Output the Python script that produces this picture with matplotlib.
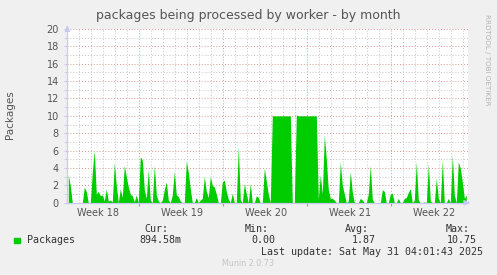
import numpy as np
import matplotlib
matplotlib.use("Agg")
import matplotlib.pyplot as plt
from matplotlib.patches import Rectangle
from matplotlib.ticker import MultipleLocator, FixedLocator

# packages in flight, one sample per 4 hours, oldest first
packages = [
    3.2, 2.0, 0, 0, 0, 0, 0, 0, 1.8, 1.3,
    0, 0, 3.5, 6.0, 1.0, 1.3, 0.8, 0.9, 0.2, 1.6,
    0.2, 0.3, 0.1, 4.6, 2.0, 0, 1.6, 0.6, 4.3, 3.0,
    1.8, 1.0, 0.8, 0.1, 0.9, 0, 5.3, 4.9, 1.5, 0.5,
    3.8, 0.3, 0, 4.3, 0.9, 0.2, 0, 0.3, 1.5, 2.4,
    0.3, 0, 0.9, 3.6, 0.9, 0.7, 0.2, 0, 0, 4.8,
    3.5, 1.6, 0, 0, 0.6, 0, 0.3, 0.5, 3.0, 1.3,
    0.6, 3.0, 2.0, 1.8, 1.0, 0, 0, 2.4, 2.6, 1.3,
    0.4, 0, 1.1, 0, 0, 6.5, 0.3, 0, 2.2, 1.0,
    0, 2.2, 0, 0, 0.8, 0.6, 0, 0, 4.0, 2.5,
    1.0, 0, 10.0, 10.0, 10.0, 10.0, 10.0, 10.0, 10.0, 10.0,
    10.0, 10.0, 0, 0, 10.1, 10.0, 10.0, 10.0, 10.0, 10.0,
    10.0, 10.0, 10.0, 10.0, 10.0, 0.4, 3.2, 1.0, 7.8, 5.0,
    1.5, 0.5, 0.5, 0.3, 0, 0, 4.7, 2.0, 1.0, 0,
    0.2, 3.6, 1.2, 0, 0, 0, 0.5, 0.3, 0, 0,
    1.0, 4.3, 0.4, 0, 0, 0, 0, 1.5, 1.3, 0,
    0, 1.0, 1.1, 0, 0, 0.5, 0, 0, 0.5, 0.6,
    1.2, 1.6, 0, 0.3, 4.7, 0.3, 0, 0, 0.1, 0,
    4.5, 0.2, 0, 0, 2.8, 0.5, 0, 4.9, 0, 0,
    0.5, 0, 5.5, 0.9, 0, 4.7, 4.0, 2.4, 0.5, 0.9,
]
samples_per_day = 6
span_days = 33.39
week_starts = [6, 13, 20, 27]
week_label_pos = [2.56, 9.56, 16.56, 23.56, 30.56]
week_labels = ["Week 18", "Week 19", "Week 20", "Week 21", "Week 22"]
stats = {"Cur:": "894.58m", "Min:": "0.00", "Avg:": "1.87", "Max:": "10.75"}
last_update = "Last update: Sat May 31 04:01:43 2025"

W, H = 497, 275
BG = "#f0f0f0"
GREEN = "#00cc00"
AXIS = "#c8c8f0"
TXT = "#555555"
MONO = "DejaVu Sans Mono"


def fx(px):
    return px / W


def fy(py):
    return 1 - py / H


fig = plt.figure(figsize=(W / 100, H / 100), dpi=100, facecolor=BG)
left, right, top, bottom = 67.3, 468.0, 29.0, 202.7
ax = fig.add_axes([fx(left), fy(bottom), fx(right - left), (bottom - top) / H])
ax.set_facecolor("white")

vals = np.array(packages)
t = (np.arange(len(vals)) + 0.5) / samples_per_day
ax.fill_between(t, 0, vals, color=GREEN, lw=0, zorder=2)

ax.set_xlim(0, span_days)
ax.set_ylim(0, 20)

# grid: gray per day / per unit, red per week / per 2 units
ax.set_axisbelow(True)
ax.xaxis.set_major_locator(FixedLocator(week_starts))
ax.xaxis.set_minor_locator(MultipleLocator(1))
ax.yaxis.set_major_locator(MultipleLocator(2))
ax.yaxis.set_minor_locator(MultipleLocator(1))
ax.grid(which="minor", color="#c4c4c4", ls=(0, (1, 2)), lw=0.7)
ax.grid(which="major", color="#dc9494", ls=(0, (1, 2)), lw=0.7)
ax.set_xticklabels([])
ax.tick_params(axis="x", which="major", length=2, color="#e08080", width=0.8)
ax.tick_params(axis="x", which="minor", length=0)
ax.tick_params(axis="y", which="both", length=2, color=AXIS, labelsize=7,
               labelcolor=TXT, pad=4)

sec = ax.secondary_xaxis("bottom")
sec.set_xticks(week_label_pos, week_labels)
sec.tick_params(length=0, labelsize=7, labelcolor=TXT, pad=4)
sec.spines["bottom"].set_visible(False)

for s in ["top", "right"]:
    ax.spines[s].set_visible(False)
for s in ["left", "bottom"]:
    ax.spines[s].set_color(AXIS)
    ax.spines[s].set_linewidth(0.9)

# axis arrows
arrow = dict(arrowstyle="-|>,head_width=0.15,head_length=0.35", color=AXIS, lw=0.9)
ax.annotate("", xy=(1.013, 0), xytext=(0.99, 0), xycoords="axes fraction",
            arrowprops=arrow, annotation_clip=False)
ax.annotate("", xy=(0, 1.04), xytext=(0, 0.98), xycoords="axes fraction",
            arrowprops=arrow, annotation_clip=False)

fig.text(fx(248), fy(15), "packages being processed by worker - by month",
         ha="center", va="center", fontsize=9, color=TXT)
fig.text(fx(10.5), fy(115), "Packages", rotation=90, ha="center", va="center",
         fontsize=7.5, color=TXT)
fig.text(fx(487), fy(14), "RRDTOOL / TOBI OETIKER", rotation=270, ha="center",
         va="top", fontsize=5.1, color="#b4b4b4")

# legend
fig.patches.append(Rectangle((fx(14), fy(242.7)), fx(6), 5 / H,
                             transform=fig.transFigure, color=GREEN))
fig.text(fx(26.7), fy(240), "Packages", ha="left", va="center", fontsize=7.2,
         family=MONO, color="#333333")
head_right = [168.3, 268.7, 369.3, 470.0]
val_right = [181.0, 275.3, 376.0, 476.7]
for (head, val), hx, vx in zip(stats.items(), head_right, val_right):
    fig.text(fx(hx), fy(228.5), head, ha="right", va="center", fontsize=7.2,
             family=MONO, color="#333333")
    fig.text(fx(vx), fy(240), val, ha="right", va="center", fontsize=7.2,
             family=MONO, color="#333333")
fig.text(fx(482.7), fy(252), last_update, ha="right", va="center",
         fontsize=7.2, family=MONO, color="#333333")
fig.text(fx(248), fy(264), "Munin 2.0.73", ha="center", va="center",
         fontsize=5.8, color="#c4c4c4")

fig.savefig("out.png", dpi=100, facecolor=BG)
